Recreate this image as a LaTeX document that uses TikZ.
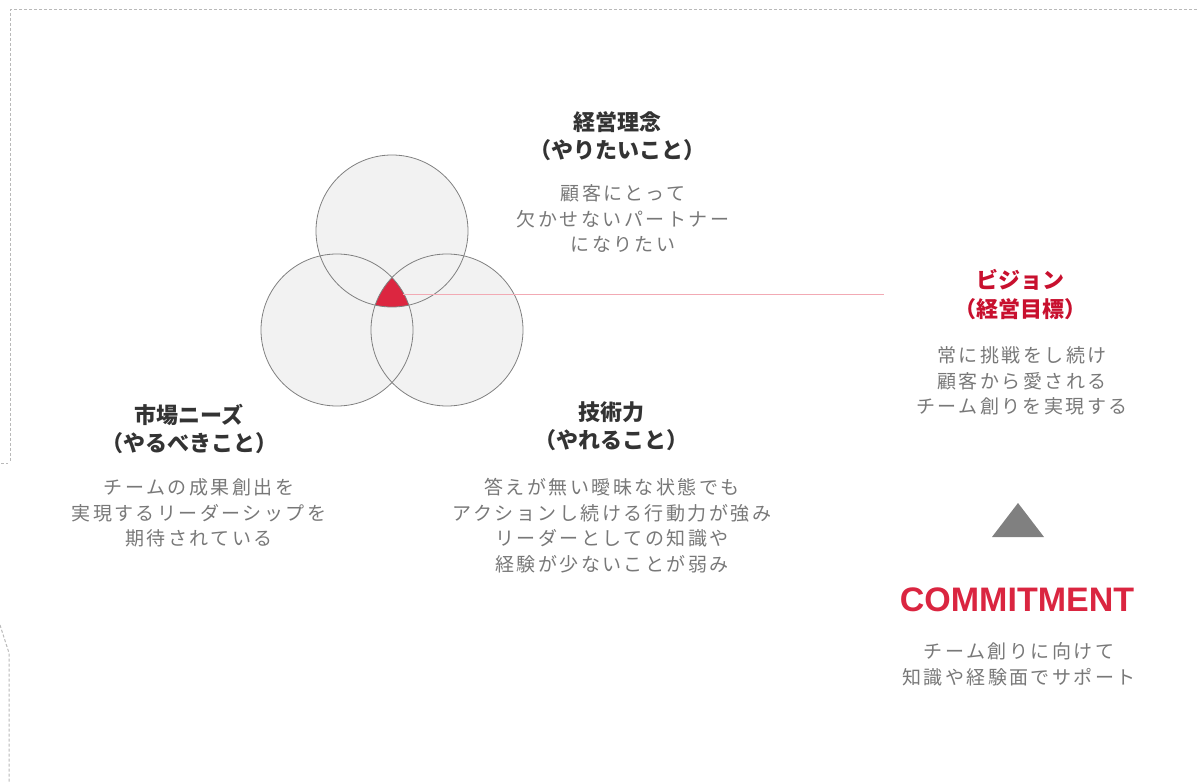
\documentclass[tikz,border=0pt]{standalone}
\usepackage{fontspec}
\setmainfont{Noto Sans CJK JP}
\newfontfamily\jpbody[LetterSpace=13]{Noto Sans CJK JP}
\newfontfamily\latinbold{Liberation Sans}
\definecolor{titlegray}{RGB}{51,51,51}
\definecolor{bodygray}{RGB}{120,120,120}
\definecolor{visionred}{RGB}{200,16,46}
\definecolor{commitred}{RGB}{218,37,64}
\definecolor{corefill}{RGB}{220,38,64}
\definecolor{linepink}{RGB}{242,170,180}
\definecolor{circfill}{RGB}{242,242,242}
\definecolor{circline}{RGB}{128,128,128}
\definecolor{bordergray}{RGB}{185,185,185}
\begin{document}
\begin{tikzpicture}[x=1pt,y=-1pt,
  titletext/.style={align=center,font=\fontsize{22}{28.5}\selectfont\bfseries,text=titlegray,inner sep=0pt},
  bodytext/.style={align=center,font=\fontsize{19}{25.5}\selectfont\jpbody,text=bodygray,inner sep=0pt},
  venn/.style={draw=circline,line width=0.8pt},
  borderline/.style={draw=bordergray,line width=1pt,dash pattern=on 3pt off 2pt}
]
\useasboundingbox (0,0) rectangle (1197,783);
% border fragments
\draw[borderline] (1197,10) -- (10,10) -- (10,462);
\draw[borderline] (1,463) -- (8,463);
\draw[borderline] (0,625) -- (9,653) -- (9,783);
% circles
\coordinate (ctop) at (392,231);
\coordinate (cleft) at (337,330);
\coordinate (cright) at (447,330);
\fill[circfill] (ctop) circle (76);
\fill[circfill] (cleft) circle (76);
\fill[circfill] (cright) circle (76);
\begin{scope}
  \clip (ctop) circle (76);
  \clip (cleft) circle (76);
  \fill[corefill] (cright) circle (76);
\end{scope}
\draw[venn] (ctop) circle (76);
\draw[venn] (cleft) circle (76);
\draw[venn] (cright) circle (76);
% connector
\coordinate (core) at (403,295);
\coordinate (lineend) at (884,295);
\draw[linepink,line width=1pt] (core) -- (lineend);
% top
\node[titletext] (t1) at (617,136) {経営理念\\（やりたいこと）};
\node[bodytext] (b1) at (623,219) {顧客にとって\\欠かせないパートナー\\になりたい};
% left
\node[titletext] (t2) at (189,429) {市場ニーズ\\（やるべきこと）};
\node[bodytext] (b2) at (199,513) {チームの成果創出を\\実現するリーダーシップを\\期待されている};
% right
\node[titletext] (t3) at (611,426) {技術力\\（やれること）};
\node[bodytext] (b3) at (612,525.5) {答えが無い曖昧な状態でも\\アクションし続ける行動力が強み\\リーダーとしての知識や\\経験が少ないことが弱み};
% vision
\node[titletext,text=visionred] (t4) at (1020,294.5) {ビジョン\\（経営目標）};
\node[bodytext] (b4) at (1022,381) {常に挑戦をし続け\\顧客から愛される\\チーム創りを実現する};
% triangle
\coordinate (tria) at (1018,503);
\coordinate (trib1) at (992,537);
\coordinate (trib2) at (1044,537);
\fill[circline] (tria) -- (trib1) -- (trib2) -- cycle;
% commitment
\node[inner sep=0pt,text=commitred,font=\fontsize{34}{40}\selectfont\latinbold\bfseries] (c) at (1017,600) {COMMITMENT};
\node[bodytext] (b5) at (1019,664.5) {チーム創りに向けて\\知識や経験面でサポート};
\end{tikzpicture}
\end{document}
